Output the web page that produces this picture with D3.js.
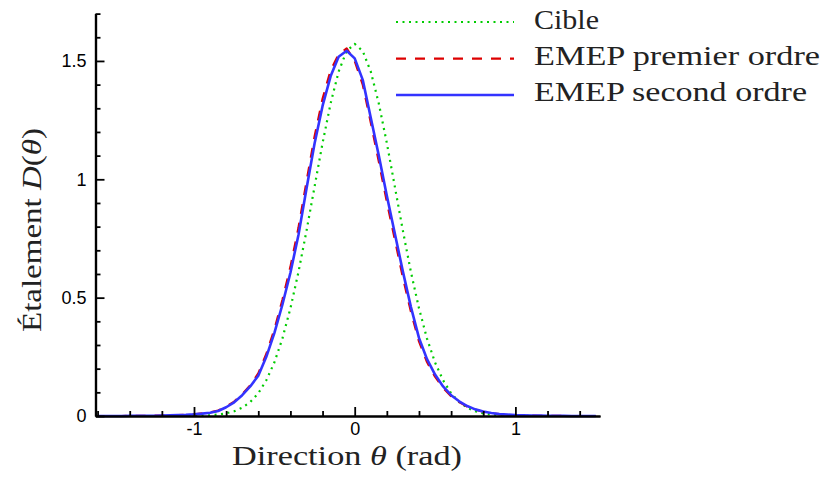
<!DOCTYPE html>
<html><head><meta charset="utf-8">
<script src="https://cdn.jsdelivr.net/npm/d3@7"></script>
<style>
html,body{margin:0;padding:0;background:#fff;}
svg{display:block;}
</style>
</head><body>
<svg id="chart" width="826" height="477"></svg>
<script>
const theta = [-1.6,-1.55,-1.5,-1.45,-1.4,-1.35,-1.3,-1.25,-1.2,-1.15,-1.1,-1.05,-1.0,-0.95,-0.9,-0.85,-0.8,-0.75,-0.7,-0.65,-0.6,-0.55,-0.5,-0.45,-0.4,-0.35,-0.3,-0.25,-0.2,-0.15,-0.1,-0.05,0,0.05,0.1,0.15,0.2,0.25,0.3,0.35,0.4,0.45,0.5,0.55,0.6,0.65,0.7,0.75,0.8,0.85,0.9,0.95,1.0,1.05,1.1,1.15,1.2,1.25,1.3,1.35,1.4,1.45,1.5];
const cible = [0,0,0,0,0,0,0,0,0,0,0.0001,0.0003,0.0007,0.0014,0.003,0.006,0.011,0.020,0.035,0.059,0.096,0.151,0.226,0.327,0.455,0.608,0.782,0.968,1.153,1.320,1.455,1.542,1.572,1.542,1.455,1.320,1.153,0.968,0.782,0.608,0.455,0.327,0.226,0.151,0.096,0.059,0.035,0.020,0.011,0.006,0.003,0.0014,0.0007,0.0003,0.0001,0,0,0,0,0,0,0,0];
const premier = [0,0,0,0,0.001,0.001,0.001,0.002,0.002,0.003,0.004,0.005,0.007,0.011,0.015,0.023,0.039,0.061,0.092,0.130,0.180,0.262,0.365,0.490,0.630,0.795,0.990,1.180,1.340,1.460,1.528,1.553,1.500,1.400,1.240,1.075,0.905,0.745,0.585,0.440,0.315,0.228,0.166,0.119,0.084,0.059,0.040,0.027,0.018,0.012,0.008,0.005,0.004,0.003,0.002,0.001,0.001,0.001,0,0,0,0,0];
const second = [0,0,0,0,0.001,0.001,0.001,0.001,0.002,0.003,0.004,0.005,0.007,0.010,0.014,0.021,0.037,0.058,0.088,0.125,0.170,0.250,0.350,0.470,0.605,0.765,0.960,1.150,1.310,1.435,1.518,1.543,1.511,1.420,1.260,1.100,0.930,0.770,0.610,0.460,0.330,0.240,0.175,0.125,0.088,0.062,0.042,0.028,0.019,0.013,0.008,0.006,0.004,0.003,0.002,0.002,0.001,0.001,0.001,0,0,0,0];
const seriesNames = ["Cible","EMEP premier ordre","EMEP second ordre"];
const xMajor = [-1,0,1];
const xMinor = [-1.6,-1.4,-1.2,-0.8,-0.6,-0.4,-0.2,0.2,0.4,0.6,0.8,1.2,1.4];
const yMajor = [0,0.5,1,1.5];
const yMinor = [0.1,0.2,0.3,0.4,0.6,0.7,0.8,0.9,1.1,1.2,1.3,1.4,1.6,1.7];

const svg = d3.select("#chart");
const x0 = 354.7, k = 160.7;
const x = d3.scaleLinear().domain([(95.5-x0)/k,(600-x0)/k]).range([95.5,600]);
const y = d3.scaleLinear().domain([0,1.7]).range([416,13.6]);

const styles = [
  {color:"#00cc00", dash:"2,4.5", width:2.2},
  {color:"#dd0000", dash:"10,9", width:2.2},
  {color:"#3333ff", dash:null, width:2.6}
];
const data = [cible, premier, second];

const g = svg.append("g");
data.forEach((vals,i)=>{
  const pts = theta.map((t,j)=>[t,vals[j]]);
  g.append("path")
    .attr("d", d3.line().x(d=>x(d[0])).y(d=>y(d[1]))(pts))
    .attr("fill","none")
    .attr("stroke",styles[i].color)
    .attr("stroke-width",styles[i].width)
    .attr("stroke-dasharray",styles[i].dash)
    .attr("stroke-linejoin","round");
});

// axes
const tickFont = "'Liberation Sans', Arial, sans-serif";
const xa = svg.append("g").attr("transform","translate(0,416)")
  .call(d3.axisBottom(x).tickValues(xMajor).tickFormat(d3.format("d")).tickSizeInner(-9).tickSizeOuter(0).tickPadding(6));
const xm = svg.append("g").attr("transform","translate(0,416)")
  .call(d3.axisBottom(x).tickValues(xMinor).tickFormat("").tickSizeInner(-5).tickSizeOuter(0));
const ya = svg.append("g").attr("transform","translate(95.5,0)")
  .call(d3.axisLeft(y).tickValues(yMajor).tickFormat(d=>d===0?"0":String(d)).tickSizeInner(-9).tickSizeOuter(0).tickPadding(9));
const ym = svg.append("g").attr("transform","translate(95.5,0)")
  .call(d3.axisLeft(y).tickValues(yMinor).tickFormat("").tickSizeInner(-5).tickSizeOuter(0));
[xa,xm,ya,ym].forEach(a=>{
  a.select(".domain").attr("stroke","#000").attr("stroke-width",2.2);
  a.selectAll(".tick line").attr("stroke","#000").attr("stroke-width",1.8);
  a.selectAll("text").attr("font-family",tickFont).attr("font-size",18).attr("fill","#000");
});
xa.selectAll("text").text(d=>d<0?"-"+Math.abs(d):String(d));

// titles
const serif = "'Liberation Serif', 'Times New Roman', serif";
const xt = svg.append("text").attr("x",232).attr("y",465)
  .attr("font-family",serif).attr("font-size",28).attr("fill","#222")
  .attr("textLength",230).attr("lengthAdjust","spacingAndGlyphs");
xt.append("tspan").text("Direction ");
xt.append("tspan").attr("font-style","italic").text("θ");
xt.append("tspan").text(" (rad)");

const yt = svg.append("text").attr("transform","translate(41,332) rotate(-90)")
  .attr("font-family",serif).attr("font-size",28).attr("fill","#222")
  .attr("textLength",204).attr("lengthAdjust","spacingAndGlyphs");
yt.append("tspan").text("Étalement ");
yt.append("tspan").attr("font-style","italic").text("D");
yt.append("tspan").text("(");
yt.append("tspan").attr("font-style","italic").text("θ");
yt.append("tspan").text(")");

// legend
const legY = [22,58.7,95];
const legBase = [28.5,65.3,101];
const legW = [65,286,273];
seriesNames.forEach((n,i)=>{
  svg.append("line").attr("x1",396).attr("x2",514).attr("y1",legY[i]).attr("y2",legY[i])
    .attr("stroke",styles[i].color).attr("stroke-width",styles[i].width)
    .attr("stroke-dasharray",styles[i].dash);
  svg.append("text").attr("x",534).attr("y",legBase[i]).text(n)
    .attr("font-family",serif).attr("font-size",27).attr("fill","#222")
    .attr("textLength",legW[i]).attr("lengthAdjust","spacingAndGlyphs");
});
</script>
</body></html>
